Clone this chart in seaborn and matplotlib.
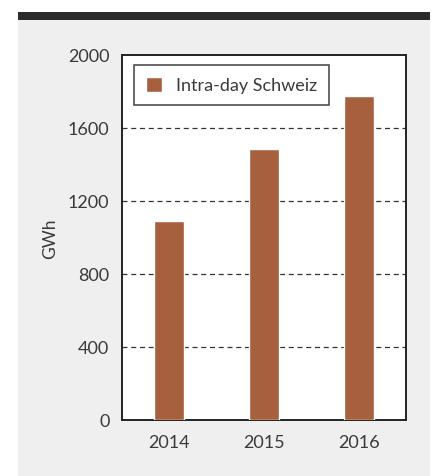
import matplotlib
matplotlib.use("Agg")
import matplotlib.pyplot as plt
import seaborn as sns
import pandas as pd
from matplotlib.patches import Rectangle

years = ["2014", "2015", "2016"]
values = [1090, 1485, 1775]
series_name = "Intra-day Schweiz"
y_ticks = [0, 400, 800, 1200, 1600, 2000]
y_label = "GWh"

sns.set_theme(style="white")
plt.rcParams['font.family'] = ['Lato', 'DejaVu Sans']
plt.rcParams['font.weight'] = 'normal'

W, H = 438, 477
fig = plt.figure(figsize=(W / 100, H / 100), dpi=100, facecolor="white")

# gray page background and dark top rule
fig.patches.append(Rectangle((18 / W, 0), (430 - 18) / W, (H - 20) / H,
                             transform=fig.transFigure, facecolor="#efefef",
                             edgecolor="none", zorder=-2))
fig.patches.append(Rectangle((18 / W, (H - 21) / H), (430 - 18) / W, 8 / H,
                             transform=fig.transFigure, facecolor="#2b2b2b",
                             edgecolor="none", zorder=-2))

ax = fig.add_axes([122 / W, (H - 421) / H, (406 - 122) / W, (421 - 56) / H])
ax.set_zorder(5)
ax.set_facecolor("white")

df = pd.DataFrame({"year": years, "value": values})
sns.barplot(data=df, x="year", y="value", color="#a6603e", width=0.32,
            saturation=1, label=series_name, ax=ax, zorder=3)

ax.set_ylim(0, 2000)
ax.set_xlim(-0.5, 2.5)
ax.set_yticks(y_ticks)
ax.set_yticklabels([str(t) for t in y_ticks])
for t in y_ticks[1:-1]:
    ax.axhline(t, color="#333333", lw=0.9, ls=(0, (4, 3)), zorder=1)

ax.tick_params(axis="both", length=0, labelsize=13, labelcolor="#3a3a3a")
ax.tick_params(axis="y", pad=9)
ax.tick_params(axis="x", pad=10)
ax.set_xlabel("")
ax.set_ylabel(y_label, fontsize=12.5, color="#3a3a3a", labelpad=7)

for s in ax.spines.values():
    s.set_color("#222222")
    s.set_linewidth(1.4)

leg = ax.legend(loc="upper left", bbox_to_anchor=(0.042, 0.973), borderaxespad=0,
                fontsize=13, frameon=True, fancybox=False, handlelength=0.9,
                handleheight=0.9, handletextpad=0.8, borderpad=0.65)
leg.get_frame().set_edgecolor("#222222")
leg.get_frame().set_linewidth(1.2)
for txt in leg.get_texts():
    txt.set_color("#3a3a3a")

fig.savefig("out.png", dpi=100, facecolor="white")
